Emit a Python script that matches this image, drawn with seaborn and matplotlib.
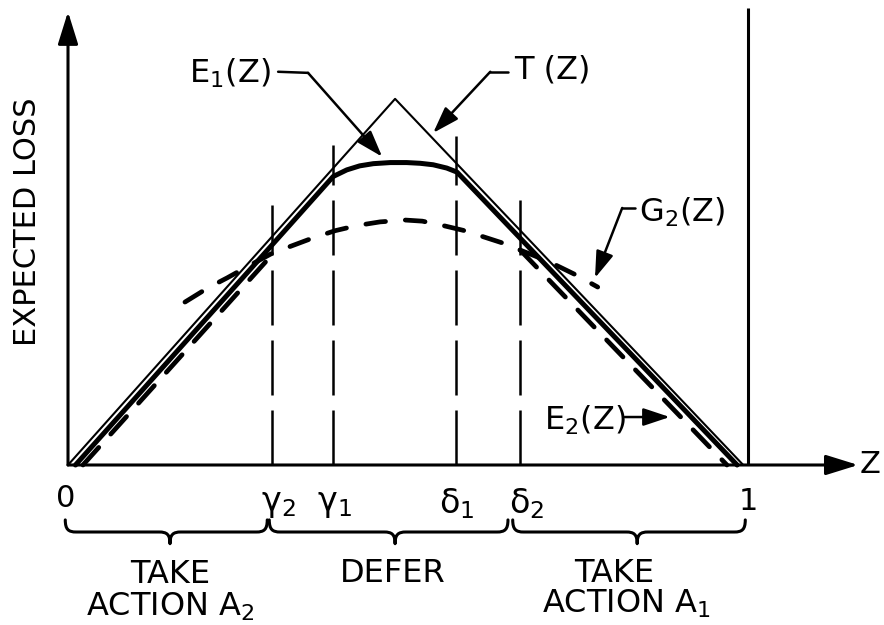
import matplotlib
matplotlib.use("Agg")
import matplotlib.pyplot as plt
from matplotlib.path import Path
from matplotlib.patches import PathPatch
import seaborn as sns

# ---- data (Z on [0, 1], loss scaled so that the peak of T(Z) is 1) ----
T_z = [0.0, 0.481, 0.993]
T_loss = [0.0, 1.0, 0.0]

E1_z = [0.011, 0.390, 0.410, 0.429, 0.449, 0.474, 0.498, 0.518, 0.537, 0.557, 0.572, 0.984]
E1_loss = [0.0, 0.788, 0.806, 0.817, 0.823, 0.826, 0.826, 0.824, 0.820, 0.811, 0.800, 0.0]

E2_z = [0.022, 0.297, 0.665, 0.969]
E2_loss = [0.0, 0.568, 0.587, 0.0]

G2_z = [0.172, 0.206, 0.234, 0.263, 0.301, 0.337, 0.360, 0.393, 0.425, 0.459, 0.496,
        0.521, 0.547, 0.581, 0.603, 0.638, 0.665, 0.704, 0.724, 0.746, 0.779]
G2_loss = [0.445, 0.484, 0.511, 0.541, 0.579, 0.604, 0.620, 0.640, 0.654, 0.664, 0.669,
           0.666, 0.656, 0.641, 0.628, 0.607, 0.587, 0.558, 0.540, 0.520, 0.486]

# decision boundaries and the height of their marker lines
bound_names = [r"$\gamma_2$", r"$\gamma_1$", r"$\delta_1$", r"$\delta_2$"]
bound_z = [0.300, 0.390, 0.571, 0.665]
bound_top = [0.710, 0.874, 0.899, 0.735]

region_labels = [("TAKE", "ACTION $A_2$"), ("DEFER", None), ("TAKE", "ACTION $A_1$")]

# ---- style ----
sns.set_style("white")
plt.rcParams["font.family"] = ["DejaVu Sans"]
plt.rcParams["mathtext.default"] = "regular"
plt.rcParams["text.color"] = "black"

fig = plt.figure(figsize=(8.84, 6.25), dpi=100)
ax = fig.add_axes([0, 0, 1, 1])
ax.set_xlim(-0.1, 1.2)
ax.set_ylim(-0.437, 1.270)
ax.axis("off")

K = "black"

# axes with arrow heads
arrow_kw = dict(arrowstyle="-|>,head_length=0.9,head_width=0.28", lw=2.2, color=K,
                mutation_scale=22, shrinkA=0, shrinkB=0)
ax.annotate("", xy=(0, 1.238), xytext=(0, 0), arrowprops=arrow_kw)
ax.annotate("", xy=(1.162, 0), xytext=(0, 0), arrowprops=arrow_kw)
ax.plot([1, 1], [0, 1.249], color=K, lw=2.2, solid_capstyle="butt")

# T(Z)
sns.lineplot(x=T_z, y=T_loss, ax=ax, color=K, lw=1.5, sort=False, estimator=None)

# E1(Z)
sns.lineplot(x=E1_z, y=E1_loss, ax=ax, color=K, lw=3.6, sort=False, estimator=None)

# E2(Z): two dashed legs
for seg in (slice(0, 2), slice(2, 4)):
    sns.lineplot(x=E2_z[seg], y=E2_loss[seg], ax=ax, color=K, lw=3.4,
                 sort=False, estimator=None)
    ax.lines[-1].set_dashes((5, 3.8))
    ax.lines[-1].set_dash_capstyle("round")

# G2(Z)
sns.lineplot(x=G2_z, y=G2_loss, ax=ax, color=K, lw=3.4, sort=False, estimator=None)
ax.lines[-1].set_dashes((4.2, 4.2))
ax.lines[-1].set_dash_capstyle("round")

# boundary markers
for z, top in zip(bound_z, bound_top):
    ln, = ax.plot([z, z], [0, top], color=K, lw=1.8)
    ln.set_dashes((22, 6))

# axis labels
ax.text(-0.060, 0.664, "EXPECTED LOSS", rotation=90, ha="center", va="center",
        fontsize=22)
ax.text(1.180, 0.0, "Z", ha="center", va="center", fontsize=22)
ax.text(-0.004, -0.092, "0", ha="center", va="center", fontsize=22)
ax.text(1.0, -0.100, "1", ha="center", va="center", fontsize=22)
label_dx = [0.009, 0.002, 0.0, 0.010]
for name, z, dx in zip(bound_names, bound_z, label_dx):
    ax.text(z + dx, -0.105, name, ha="center", va="center", fontsize=24)

# curly braces under the axis
def brace(z0, z1, zt, yb=-0.183, hook=0.033, tip=0.032, dx=0.016):
    verts = [(z0, yb + hook),
             (z0, yb + 0.2 * hook), (z0 + 0.3 * dx, yb), (z0 + dx, yb),
             (zt - dx, yb),
             (zt - 0.3 * dx, yb), (zt, yb - 0.2 * tip), (zt, yb - tip),
             (zt, yb - 0.2 * tip), (zt + 0.3 * dx, yb), (zt + dx, yb),
             (z1 - dx, yb),
             (z1 - 0.3 * dx, yb), (z1, yb + 0.2 * hook), (z1, yb + hook)]
    codes = [Path.MOVETO,
             Path.CURVE4, Path.CURVE4, Path.CURVE4,
             Path.LINETO,
             Path.CURVE4, Path.CURVE4, Path.CURVE4,
             Path.CURVE4, Path.CURVE4, Path.CURVE4,
             Path.LINETO,
             Path.CURVE4, Path.CURVE4, Path.CURVE4]
    ax.add_patch(PathPatch(Path(verts, codes), fill=False, lw=2.2, edgecolor=K,
                           capstyle="round", joinstyle="round"))

brace(-0.004, 0.293, 0.150)
brace(0.296, 0.647, 0.481)
brace(0.654, 0.996, 0.837)

# region captions
ax.text(0.150, -0.300, region_labels[0][0], ha="center", va="center", fontsize=23)
ax.text(0.150, -0.388, region_labels[0][1], ha="center", va="center", fontsize=23)
ax.text(0.478, -0.295, region_labels[1][0], ha="center", va="center", fontsize=23)
ax.text(0.803, -0.297, region_labels[2][0], ha="center", va="center", fontsize=23)
ax.text(0.821, -0.380, region_labels[2][1], ha="center", va="center", fontsize=23)

# curve call-outs
lead_kw = dict(arrowstyle="-|>,head_length=0.9,head_width=0.3", lw=1.8, color=K,
               mutation_scale=18, shrinkA=0, shrinkB=0)
ax.text(0.238, 1.071, "$E_1$(Z)", ha="center", va="center", fontsize=23)
ax.plot([0.309, 0.353], [1.074, 1.071], color=K, lw=1.8)
ax.annotate("", xy=(0.462, 0.842), xytext=(0.353, 1.071), arrowprops=lead_kw)

ax.text(0.712, 1.079, "T (Z)", ha="center", va="center", fontsize=23)
ax.plot([0.647, 0.621], [1.074, 1.074], color=K, lw=1.8)
ax.annotate("", xy=(0.537, 0.907), xytext=(0.621, 1.074), arrowprops=lead_kw)

ax.text(0.903, 0.691, "$G_2$(Z)", ha="center", va="center", fontsize=23)
ax.plot([0.834, 0.815], [0.702, 0.702], color=K, lw=1.8)
ax.annotate("", xy=(0.775, 0.511), xytext=(0.815, 0.702), arrowprops=lead_kw)

ax.text(0.760, 0.123, "$E_2$(Z)", ha="center", va="center", fontsize=23)
ax.annotate("", xy=(0.885, 0.131), xytext=(0.819, 0.131), arrowprops=lead_kw)

fig.savefig("out.png", dpi=100, facecolor="white")
